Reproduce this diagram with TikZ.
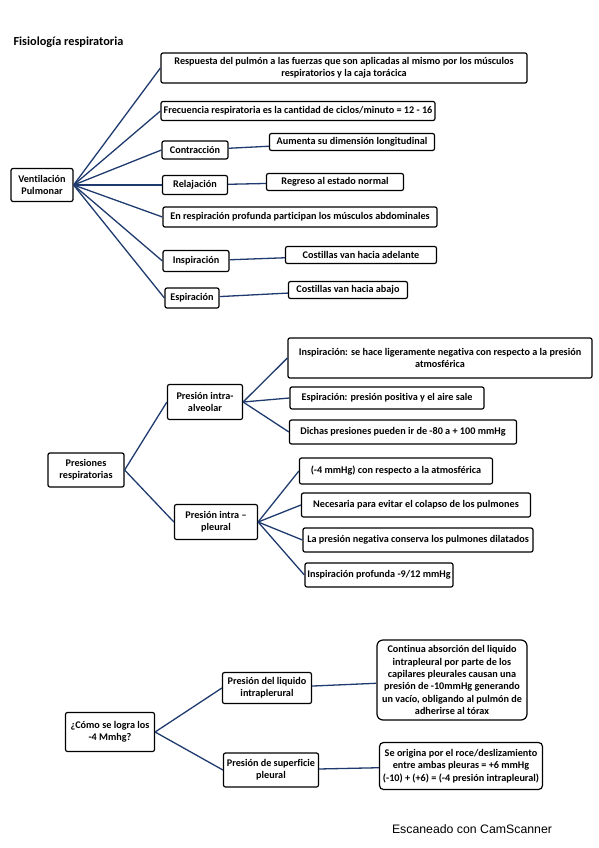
\documentclass[tikz,border=0pt]{standalone}
\usepackage{fontspec}
\setmainfont{Carlito}[Ligatures={TeX,NoCommon}]
\newfontfamily\scanfont{Liberation Sans}
\usepackage{xcolor}
\definecolor{linkblue}{HTML}{1F3A6E}

\begin{document}
\begin{tikzpicture}[x=1pt, y=-1pt,
                box/.style={draw, line width=1.2pt, rounded corners=2pt, fill=white, inner sep=1pt, align=center, font=\fontsize{10.2}{12.3}\selectfont\bfseries},
                link/.style={draw=linkblue, line width=1.3pt}]
                \useasboundingbox (0,0) rectangle (599,848);

                \node[anchor=west, font=\fontsize{12.3}{14}\selectfont\bfseries] (title) at (10,42) {Fisiología respiratoria};

                % ventilacion pulmonar
                \node[box, minimum width=62pt, minimum height=33pt] (vent) at (42,185) {Ventilación\\Pulmonar};
                \node[box, minimum width=366pt, minimum height=30pt] (resp) at (344,68) {Respuesta del pulmón a las fuerzas que son aplicadas al mismo por los músculos\\respiratorios y la caja torácica};
                \node[box, minimum width=274pt, minimum height=19pt] (frec) at (298,111) {Frecuencia respiratoria es la cantidad de ciclos/minuto = 12 - 16};
                \node[box, minimum width=66pt, minimum height=18pt] (contr) at (195,150) {Contracción};
                \node[box, minimum width=165pt, minimum height=17pt] (aum) at (352,142) {Aumenta su dimensión longitudinal};
                \node[box, minimum width=65pt, minimum height=19pt] (relaj) at (195,185) {Relajación};
                \node[box, minimum width=137pt, minimum height=17pt] (regr) at (335,182) {Regreso al estado normal};
                \node[box, minimum width=274pt, minimum height=20pt] (prof) at (300,217) {En respiración profunda participan los músculos abdominales};
                \node[box, minimum width=66pt, minimum height=21pt] (insp) at (196,261) {Inspiración};
                \node[box, minimum width=151pt, minimum height=17pt] (adel) at (361,255) {Costillas van hacia adelante};
                \node[box, minimum width=54pt, minimum height=20pt] (espir) at (192,298) {Espiración};
                \node[box, minimum width=119pt, minimum height=17pt] (abaj) at (348,290) {Costillas van hacia abajo};

                \draw[link] (vent.east) -- (resp.west);
                \draw[link] (vent.east) -- (frec.west);
                \draw[link] (vent.east) -- (contr.west);
                \draw[link] (vent.east) -- (relaj.west);
                \draw[link] (vent.east) -- (prof.west);
                \draw[link] (vent.east) -- (insp.west);
                \draw[link] (vent.east) -- (espir.west);
                \draw[link] (contr) -- (aum);
                \draw[link] (relaj) -- (regr);
                \draw[link] (insp) -- (adel);
                \draw[link] (espir) -- (abaj);

                % presiones
                \node[box, minimum width=76pt, minimum height=34pt] (pres) at (86,470) {Presiones\\respiratorias};
                \node[box, minimum width=75pt, minimum height=35pt] (alv) at (205,402) {Presión intra-\\alveolar};
                \node[box, minimum width=83pt, minimum height=35pt] (pleu) at (216,522) {Presión intra --\\pleural};
                \node[box, minimum width=304pt, minimum height=40pt] (alvA) at (440,358) {Inspiración: se hace ligeramente negativa con respecto a la presión\\atmosférica};
                \node[box, minimum width=194pt, minimum height=22pt] (alvB) at (387,398) {Espiración: presión positiva y el aire sale};
                \node[box, minimum width=227pt, minimum height=24pt] (alvC) at (403,432) {Dichas presiones pueden ir de -80 a + 100 mmHg};
                \node[box, minimum width=193pt, minimum height=26pt] (pleuA) at (396,471) {(-4 mmHg) con respecto a la atmosférica};
                \node[box, minimum width=229pt, minimum height=24pt] (pleuB) at (416,505) {Necesaria para evitar el colapso de los pulmones};
                \node[box, minimum width=230pt, minimum height=24pt] (pleuC) at (418,540) {La presión negativa conserva los pulmones dilatados};
                \node[box, minimum width=148pt, minimum height=24pt] (pleuD) at (379,575) {Inspiración profunda -9/12 mmHg};

                \draw[link] (pres.east) -- (alv.west);
                \draw[link] (pres.east) -- (pleu.west);
                \draw[link] (alv.east) -- (alvA.west);
                \draw[link] (alv.east) -- (alvB.west);
                \draw[link] (alv.east) -- (alvC.west);
                \draw[link] (pleu.east) -- (pleuA.west);
                \draw[link] (pleu.east) -- (pleuB.west);
                \draw[link] (pleu.east) -- (pleuC.west);
                \draw[link] (pleu.east) -- (pleuD.west);

                % -4 mmHg
                \node[box, minimum width=89pt, minimum height=39pt] (como) at (110,732) {¿Cómo se logra los\\-4 Mmhg?};
                \node[box, minimum width=89pt, minimum height=31pt] (liq) at (267,688) {Presión del liquido\\intraplerural};
                \node[box, minimum width=95pt, minimum height=34pt] (sup) at (271,770) {Presión de superficie\\pleural};
                \node[box, rounded corners=6pt, minimum width=150pt, minimum height=80pt] (absor) at (452,680) {Continua absorción del liquido\\intrapleural por parte de los\\capilares pleurales causan una\\presión de -10mmHg generando\\un vacío, obligando al pulmón de\\adherirse al tórax};
                \node[box, rounded corners=4pt, minimum width=163pt, minimum height=47pt] (roce) at (461,766) {Se origina por el roce/deslizamiento\\entre ambas pleuras = +6 mmHg\\(-10) + (+6) = (-4 presión intrapleural)};

                \draw[link] (como.east) -- (liq.west);
                \draw[link] (como.east) -- (sup.west);
                \draw[link] (liq) -- (absor);
                \draw[link] (sup) -- (roce);

                \node[font=\scanfont\fontsize{12.3}{14}\selectfont] (scan) at (472,829) {Escaneado con CamScanner};
            \end{tikzpicture}
\end{document}
